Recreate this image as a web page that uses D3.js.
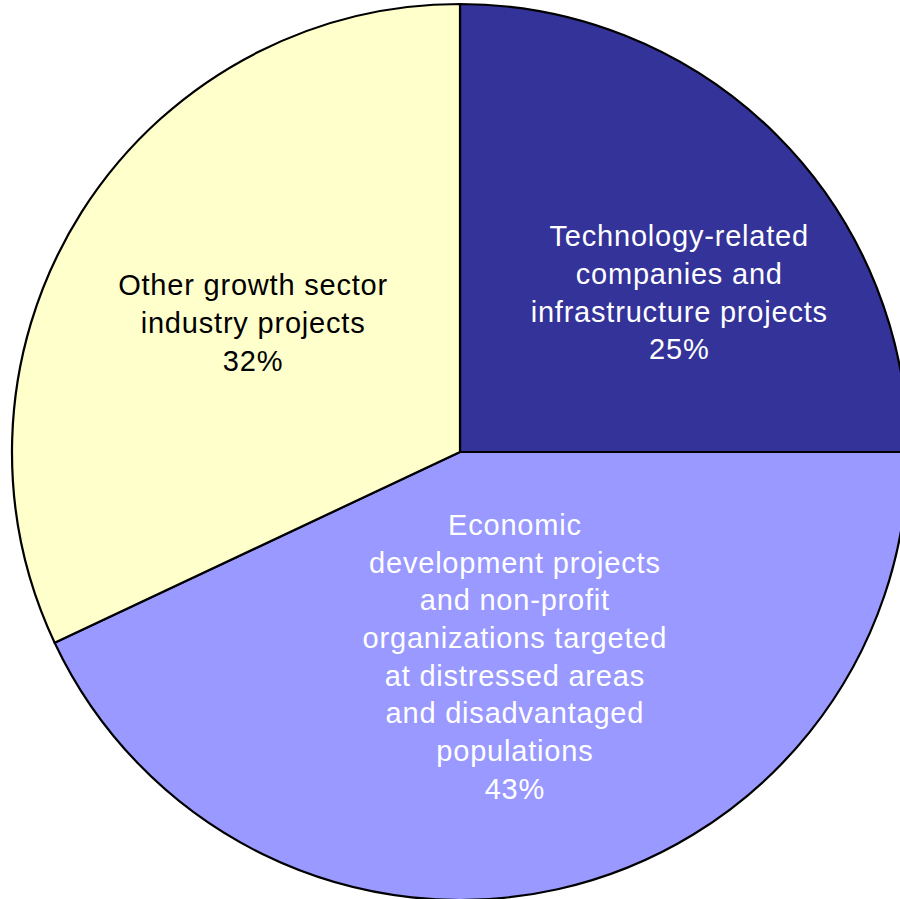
<!DOCTYPE html>
<html>
<head>
<meta charset="utf-8">
<script src="https://cdn.jsdelivr.net/npm/d3@7"></script>
<style>
  body { margin: 0; background: #fff; }
  svg text { font-family: "Liberation Sans", Arial, sans-serif; }
</style>
</head>
<body>
<svg id="pie" width="900" height="899"></svg>
<script>
// slices, clockwise from 12 o'clock
let categories = [
    ["Technology-related", "companies and", "infrastructure projects"],
    ["Economic", "development projects", "and non-profit", "organizations targeted",
     "at distressed areas", "and disadvantaged", "populations"],
    ["Other growth sector", "industry projects"]
];
let shares = [25, 43, 32];
let colors = ["#333399", "#9999ff", "#ffffcc"];
let textColors = ["#ffffff", "#ffffff", "#000000"];
// label placement (polar: degrees clockwise from north, distance from centre)
let labelAngle = [54, 165, 302];
let labelRadius = [271, 212, 244];

let cx = 460, cy = 452, radius = 448,
    fontSize = 29, lineHeight = 37.7;

let svg = d3.select("#pie");
let g = svg.append("g")
    .attr("transform", "translate(" + cx + "," + cy + ")");

let pie = d3.pie().sort(null).value((d) => { return d; });
let arc = d3.arc().innerRadius(0).outerRadius(radius);

let slices = pie(shares);

g.selectAll("path")
    .data(slices)
    .enter().append("path")
    .attr("d", arc)
    .attr("fill", (d, i) => { return colors[i]; })
    .attr("stroke", "#000")
    .attr("stroke-width", 2.2)
    .attr("stroke-linejoin", "round");

let labels = g.selectAll("text.label")
    .data(slices)
    .enter().append("text")
    .attr("class", "label")
    .attr("text-anchor", "middle")
    .attr("font-size", fontSize)
    .attr("letter-spacing", 0.8)
    .attr("fill", (d, i) => { return textColors[i]; })
    .attr("transform", (d, i) => {
        let a = labelAngle[i] * Math.PI / 180;
        return "translate(" + (Math.sin(a) * labelRadius[i]) + "," + (-Math.cos(a) * labelRadius[i]) + ")";
    });

labels.each(function (d, i) {
    let lines = categories[i].concat([shares[i] + "%"]);
    let top = -(lines.length - 1) * lineHeight / 2;
    d3.select(this).selectAll("tspan")
        .data(lines)
        .enter().append("tspan")
        .attr("x", 0)
        .attr("y", (l, j) => { return top + j * lineHeight; })
        .attr("dy", "0.35em")
        .text((l) => { return l; });
});
</script>
</body>
</html>
